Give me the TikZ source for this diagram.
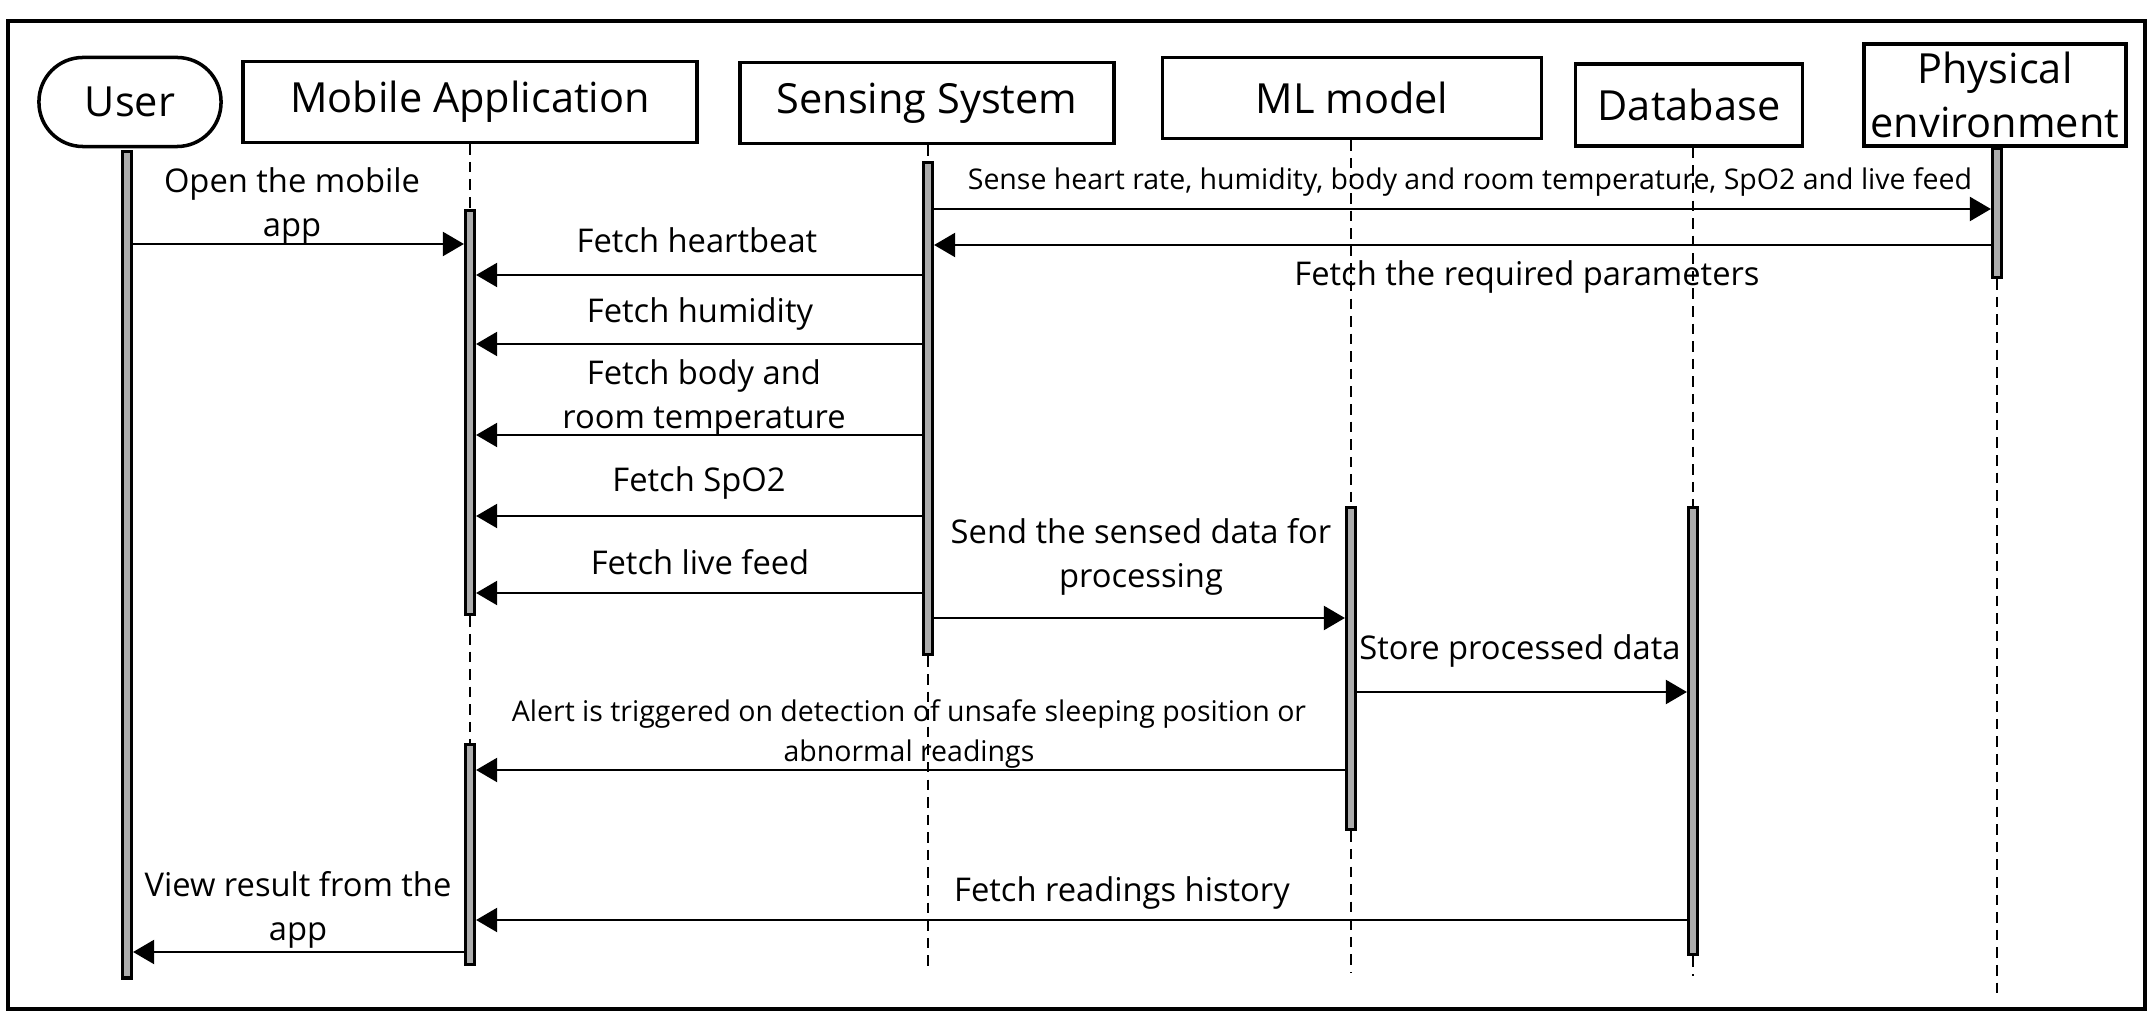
\documentclass[tikz,border=0pt]{standalone}
\usepackage{fontspec}
\setmainfont{Open Sans}
\usetikzlibrary{arrows.meta}

\begin{document}
\begin{tikzpicture}[x=0.01cm, y=-0.01cm,
		actor/.style = {draw, line width=1pt, inner sep=0pt, font=\fontsize{11.8}{15.5}\selectfont, align=center},
		bar/.style = {draw, fill=gray!65, line width=0.9pt, minimum width=0.09cm, inner sep=0pt, anchor=north},
		life/.style = {line width=0.35pt, dash pattern=on 3pt off 2pt},
		msg/.style = {-{Triangle[length=0.21cm, width=0.24cm]}, line width=0.6pt},
		lbl/.style = {font=\fontsize{9.3}{12.5}\selectfont, align=center, inner sep=0pt},
		small/.style = {font=\fontsize{8.1}{11.3}\selectfont, align=center, inner sep=0pt}]
		\useasboundingbox (0,0) rectangle (2153,1031);
		\draw[line width=1.3pt] (8,21) rectangle (2145,1009);
		% participants
		\node[actor, rounded corners=0.44cm, minimum width=1.82cm, minimum height=0.89cm] (user) at (130,102) {User};
		\node[actor, minimum width=4.54cm, minimum height=0.81cm] (app) at (470,102) {Mobile Application};
		\node[actor, minimum width=3.74cm, minimum height=0.81cm] (sense) at (927,103) {Sensing System};
		\node[actor, minimum width=3.79cm, minimum height=0.81cm] (ml) at (1352,98) {ML model};
		\node[actor, minimum width=2.27cm, minimum height=0.82cm] (db) at (1689,105) {Database};
		\node[actor, minimum width=2.62cm, minimum height=1.02cm] (phys) at (1995,95) {Physical\\environment};
		% activation bars
		\node[bar, minimum height=8.26cm] (ubar) at (127,150) {};
		\node[bar, minimum height=4.04cm] (mbar1) at (470,209) {};
		\node[bar, minimum height=2.20cm] (mbar2) at (470,743) {};
		\node[bar, minimum height=4.92cm] (sbar) at (928,161) {};
		\node[bar, minimum height=3.22cm] (mlbar) at (1351,506) {};
		\node[bar, minimum height=4.47cm] (dbar) at (1693,506) {};
		\node[bar, minimum height=1.29cm] (pbar) at (1997,147) {};
		% lifelines
		\draw[life] (app.south) -- (mbar1.north);
		\draw[life] (mbar1.south) -- (mbar2.north);
		\draw[life] (sense.south -| sbar) -- (sbar.north);
		\draw[life] (sbar.south) -- ++(0,312);
		\draw[life] (ml.south -| mlbar) -- (mlbar.north);
		\draw[life] (mlbar.south) -- ++(0,141);
		\draw[life] (db.south -| dbar) -- (dbar.north);
		\draw[life] (dbar.south) -- ++(0,20);
		\draw[life] (pbar.south) -- ++(0,715);
		% messages
		\draw[msg] (ubar.east |- 0,244) -- (mbar1.west |- 0,244);
		\node[lbl] (m1) at (292,206) {Open the mobile\\app};
		\draw[msg] (sbar.east |- 0,209) -- (pbar.west |- 0,209);
		\node[small] (m2) at (1470,182) {Sense heart rate, humidity, body and room temperature, SpO2 and live feed};
		\draw[msg] (pbar.west |- 0,245) -- (sbar.east |- 0,245);
		\node[lbl] (m3) at (1527,277) {Fetch the required parameters};
		\draw[msg] (sbar.west |- 0,275) -- (mbar1.east |- 0,275);
		\node[lbl] (m4) at (697,240) {Fetch heartbeat};
		\draw[msg] (sbar.west |- 0,344) -- (mbar1.east |- 0,344);
		\node[lbl] (m5) at (700,314) {Fetch humidity};
		\draw[msg] (sbar.west |- 0,435) -- (mbar1.east |- 0,435);
		\node[lbl] (m6) at (704,398) {Fetch body and\\room temperature};
		\draw[msg] (sbar.west |- 0,516) -- (mbar1.east |- 0,516);
		\node[lbl] (m7) at (699,483) {Fetch SpO2};
		\draw[msg] (sbar.west |- 0,593) -- (mbar1.east |- 0,593);
		\node[lbl] (m8) at (700,562) {Fetch live feed};
		\draw[msg] (sbar.east |- 0,618) -- (mlbar.west |- 0,618);
		\node[lbl] (m9) at (1141,557) {Send the sensed data for\\processing};
		\draw[msg] (mlbar.east |- 0,692) -- (dbar.west |- 0,692);
		\node[lbl] (m10) at (1520,651) {Store processed data};
		\draw[msg] (mlbar.west |- 0,770) -- (mbar2.east |- 0,770);
		\node[small] (m11) at (909,734) {Alert is triggered on detection of unsafe sleeping position or\\abnormal readings};
		\draw[msg] (dbar.west |- 0,920) -- (mbar2.east |- 0,920);
		\node[lbl] (m12) at (1122,893) {Fetch readings history};
		\draw[msg] (mbar2.west |- 0,952) -- (ubar.east |- 0,952);
		\node[lbl] (m13) at (298,910) {View result from the\\app};
\end{tikzpicture}
\end{document}
